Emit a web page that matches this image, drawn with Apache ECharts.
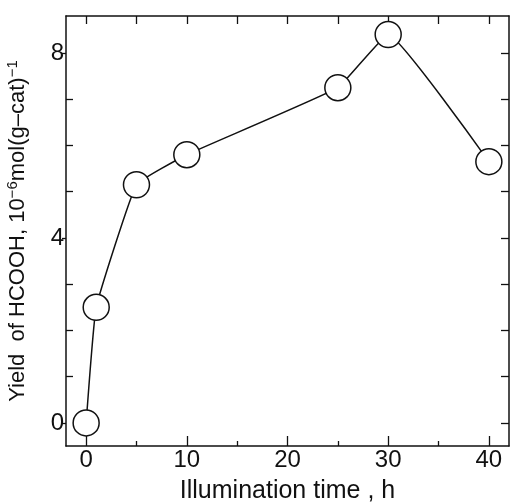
<!DOCTYPE html>
<html>
<head>
<meta charset="utf-8">
<script src="https://cdn.jsdelivr.net/npm/echarts@6/dist/echarts.min.js"></script>
<style>
  html, body { margin: 0; padding: 0; background: #fff; }
  #chart { width: 512px; height: 502px; }
</style>
</head>
<body>
<div id="chart"></div>
<script>
// Formic acid yield versus illumination time
const hours = [0, 1, 5, 10, 25, 30, 40];
const yieldHCOOH = [0, 2.5, 5.15, 5.8, 7.25, 8.4, 5.65];

const xMajorTicks = [0, 10, 20, 30, 40];
const xMinorTicks = [5, 15, 25, 35];
const xTopTicks = [0, 5, 10, 15, 20, 25, 30, 35, 40];
const yMajorTicks = [0, 4, 8];
const yMinorTicks = [1, 2, 3, 5, 6, 7];
const yRightTicks = [0, 1, 2, 3, 4, 5, 6, 7, 8];

const FONT = 'Liberation Sans, Arial, Helvetica, sans-serif';
const INK = '#111';

const X_MIN = -2, X_MAX = 42;
const Y_MIN = -0.5, Y_MAX = 8.8;

function tickOnlyX(position, ticks, len) {
  return {
    type: 'value', position: position, min: X_MIN, max: X_MAX,
    axisLine: { show: position === 'top', onZero: false, lineStyle: { color: INK, width: 1.5 } },
    axisTick: { show: true, inside: true, length: len, customValues: ticks, lineStyle: { color: INK, width: 1.3 } },
    axisLabel: { show: false },
    splitLine: { show: false }
  };
}
function tickOnlyY(position, ticks, len, inside) {
  return {
    type: 'value', position: position, min: Y_MIN, max: Y_MAX,
    axisLine: { show: position === 'right', onZero: false, lineStyle: { color: INK, width: 1.5 } },
    axisTick: { show: true, inside: inside, length: len, customValues: ticks, lineStyle: { color: INK, width: 1.3 } },
    axisLabel: { show: false },
    splitLine: { show: false }
  };
}

const chart = echarts.init(document.getElementById('chart'), null, { renderer: 'canvas' });
chart.setOption({
  backgroundColor: '#fff',
  animation: false,
  grid: { left: 66, right: 3, top: 16, bottom: 56, containLabel: false, outerBoundsMode: 'none' },
  xAxis: [
    {
      type: 'value', position: 'bottom', min: X_MIN, max: X_MAX,
      name: 'Illumination time , h',
      nameLocation: 'middle', nameGap: 33,
      nameTextStyle: { fontFamily: FONT, fontSize: 25, color: INK },
      axisLine: { show: true, onZero: false, lineStyle: { color: INK, width: 1.5 } },
      axisTick: { show: true, inside: true, length: 10, customValues: xMajorTicks, lineStyle: { color: INK, width: 1.3 } },
      axisLabel: { show: true, customValues: xMajorTicks, margin: 2, fontFamily: FONT, fontSize: 24, color: INK },
      splitLine: { show: false }
    },
    tickOnlyX('bottom', xMinorTicks, 5),
    tickOnlyX('top', xTopTicks, 8)
  ],
  yAxis: [
    {
      type: 'value', position: 'left', min: Y_MIN, max: Y_MAX,
      name: 'Yield  of HCOOH, 10{sup|−6}mol(g–cat){sup|−1}',
      nameLocation: 'middle', nameGap: 36, nameRotate: 90,
      nameTextStyle: {
        fontFamily: FONT, fontSize: 22, color: INK,
        rich: {
          sup: { fontFamily: FONT, fontSize: 15, color: INK, verticalAlign: 'top', padding: [0, 0, 10, 0] }
        }
      },
      axisLine: { show: true, onZero: false, lineStyle: { color: INK, width: 1.5 } },
      axisTick: { show: true, inside: false, length: 4, customValues: yMajorTicks, lineStyle: { color: INK, width: 1.3 } },
      axisLabel: { show: true, customValues: yMajorTicks, margin: 2, fontFamily: FONT, fontSize: 24, color: INK },
      splitLine: { show: false }
    },
    tickOnlyY('left', yMinorTicks, 7, true),
    tickOnlyY('right', yRightTicks, 8, true)
  ],
  series: [
    {
      type: 'line',
      xAxisIndex: 0, yAxisIndex: 0,
      data: hours.map((h, i) => [h, yieldHCOOH[i]]),
      smooth: 0.1,
      symbol: 'circle',
      symbolSize: 26,
      showAllSymbol: true,
      lineStyle: { color: INK, width: 1.5 },
      itemStyle: { color: '#fff', borderColor: INK, borderWidth: 1.5 },
      z: 3
    }
  ]
});
</script>
</body>
</html>
